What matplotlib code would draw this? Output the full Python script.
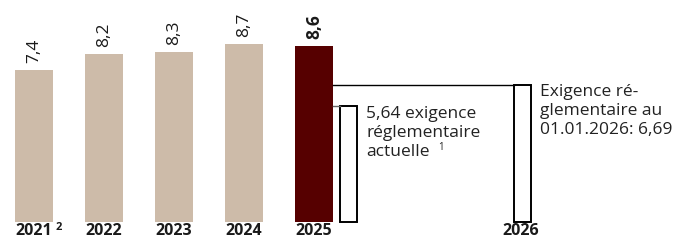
import matplotlib
matplotlib.use("Agg")
import matplotlib.pyplot as plt

plt.rcParams['font.family'] = ['Open Sans', 'DejaVu Sans']

#data
years = ['2021', '2022', '2023', '2024', '2025']
ratios = [7.4, 8.2, 8.3, 8.7, 8.6]
ratio_labels = ['7,4', '8,2', '8,3', '8,7', '8,6']
req_now = 5.64
req_2026 = 6.69
label_2026 = '2026'
text_now = '5,64 exigence\nréglementaire\nactuelle'
text_2026 = 'Exigence ré-\nglementaire au\n01.01.2026: 6,69'

tan = '#cdbba9'
darkred = '#560000'

fig = plt.figure(figsize=(6.77, 2.43), dpi=100)
ax = fig.add_axes([0, 0, 1, 1])
ax.set_xlim(-0.486, 9.186)
ax.set_ylim(-1.04, 10.84)
ax.axis('off')

pos = list(range(len(years)))
colors = [tan] * (len(years) - 1) + [darkred]
ax.bar(pos, ratios, width=0.54, color=colors)

#value labels on top of the bars, last one bold
for i in pos:
    weight = 'bold' if i == len(years) - 1 else 'normal'
    ax.annotate(ratio_labels[i], (pos[i], ratios[i]), xytext=(0, 5), textcoords='offset points',
                rotation=90, ha='center', va='bottom', fontsize=12.5, fontweight=weight, color='#1a1a1a')

#year labels under the bars
for i in pos:
    ax.text(pos[i], -0.45, years[i], ha='center', va='center', fontsize=11.5, fontweight='bold', color='#1a1a1a')
ax.text(pos[0] + 0.3, -0.27, '2', ha='left', va='center', fontsize=8, fontweight='bold', color='#1a1a1a')

#requirement bars (outlined)
x_now = 4.49
x_2026 = 6.98
ax.bar([x_now], [req_now], width=0.24, color='white', edgecolor='black', linewidth=1.4)
ax.bar([x_2026], [req_2026], width=0.25, color='white', edgecolor='black', linewidth=1.4)
ax.text(x_2026 - 0.03, -0.45, label_2026, ha='center', va='center', fontsize=11.5, fontweight='bold', color='#1a1a1a')

#connector lines from the 2025 bar
ax.plot([pos[-1] + 0.27, x_2026 - 0.125], [req_2026, req_2026], color='black', linewidth=1)
ax.plot([pos[-1] + 0.27, x_now - 0.12], [req_now, req_now], color='#666666', linewidth=1)

#annotations
ax.text(4.743, 5.65, text_now, ha='left', va='top', fontsize=12.5, color='#222222', linespacing=1.25)
ax.text(5.77, 3.62, '1', ha='left', va='center', fontsize=7, color='#222222')
ax.text(7.229, 6.72, text_2026, ha='left', va='top', fontsize=12.5, color='#222222', linespacing=1.25)

fig.savefig('out.png', dpi=100)
